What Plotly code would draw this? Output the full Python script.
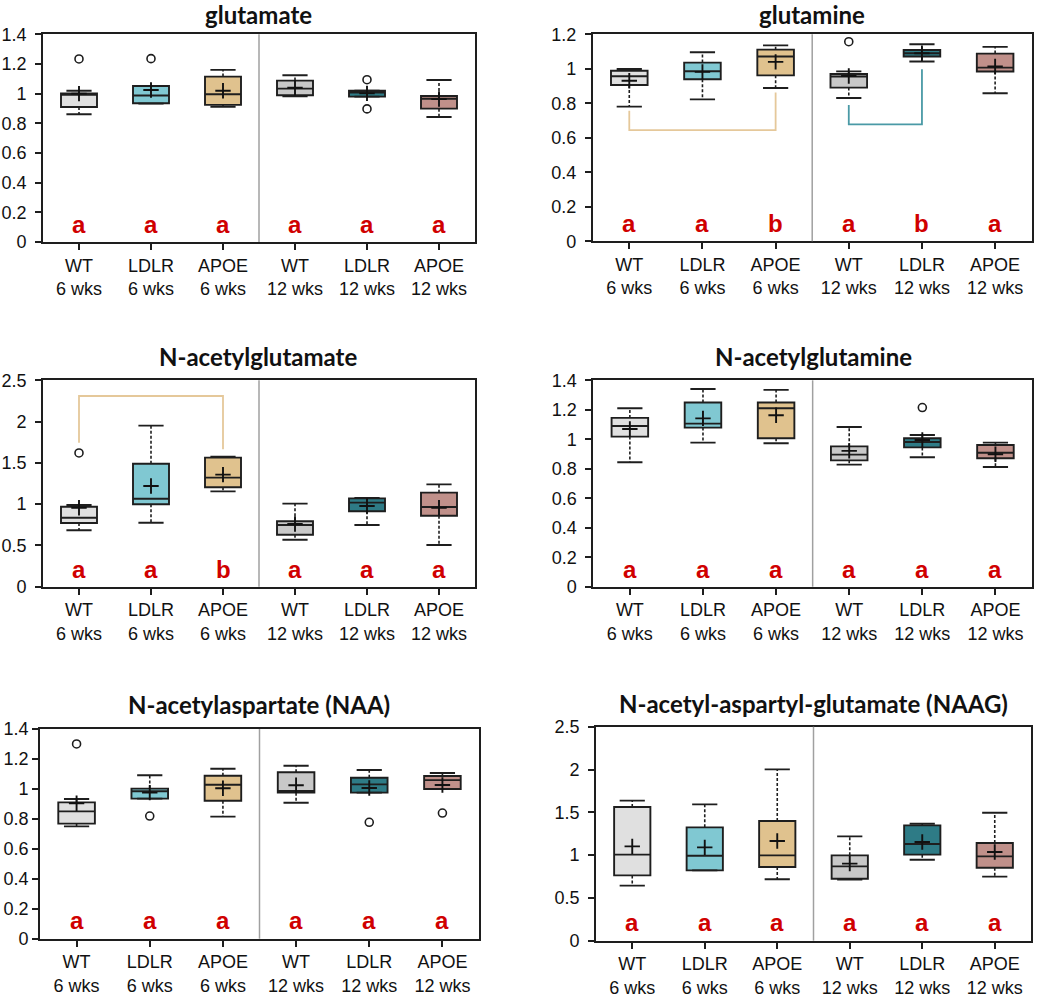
import plotly.graph_objects as go

# ---------------- data ----------------
categories = ["WT<br>6 wks", "LDLR<br>6 wks", "APOE<br>6 wks",
              "WT<br>12 wks", "LDLR<br>12 wks", "APOE<br>12 wks"]
box_colors = ["#E0E0E0", "#80C8D2", "#E0C28E", "#C8C8C8", "#2E7B86", "#C0908A"]

titles = ["glutamate", "glutamine", "N-acetylglutamate", "N-acetylglutamine",
          "N-acetylaspartate (NAA)", "N-acetyl-aspartyl-glutamate (NAAG)"]

# glutamate
glu_lo = [0.861, 0.933, 0.912, 0.982, 0.980, 0.843]
glu_q1 = [0.910, 0.935, 0.924, 0.989, 0.980, 0.899]
glu_med = [0.993, 0.987, 0.996, 1.034, 1.007, 0.966]
glu_q3 = [1.002, 1.052, 1.115, 1.088, 1.020, 0.984]
glu_hi = [1.020, 1.052, 1.160, 1.124, 1.020, 1.092]
glu_mean = [1.000, 1.025, 1.020, 1.040, 1.002, 0.964]
glu_out = [[1.234], [1.236], [], [], [1.094, 0.897], []]
glu_letters = ["a", "a", "a", "a", "a", "a"]

# glutamine
gln_lo = [0.781, 0.823, 0.889, 0.831, 1.042, 0.858]
gln_q1 = [0.906, 0.939, 0.962, 0.891, 1.071, 0.984]
gln_med = [0.957, 0.986, 1.071, 0.955, 1.090, 1.007]
gln_q3 = [0.989, 1.036, 1.111, 0.970, 1.109, 1.088]
gln_hi = [0.999, 1.096, 1.136, 0.985, 1.142, 1.127]
gln_mean = [0.931, 0.982, 1.040, 0.958, 1.090, 1.013]
gln_out = [[], [], [], [1.157], [], []]
gln_letters = ["a", "a", "b", "a", "b", "a"]

# N-acetylglutamate
nag_lo = [0.683, 0.775, 1.155, 0.569, 0.747, 0.505]
nag_q1 = [0.771, 0.998, 1.204, 0.630, 0.913, 0.860]
nag_med = [0.836, 1.066, 1.321, 0.747, 1.018, 0.965]
nag_q3 = [0.969, 1.490, 1.563, 0.792, 1.070, 1.139]
nag_hi = [0.990, 1.951, 1.575, 1.006, 1.075, 1.240]
nag_mean = [0.957, 1.220, 1.357, 0.759, 0.977, 0.957]
nag_out = [[1.620], [], [], [], [], []]
nag_letters = ["a", "a", "b", "a", "a", "a"]

# N-acetylglutamine
nagn_lo = [0.844, 0.977, 0.973, 0.828, 0.878, 0.812]
nagn_q1 = [1.018, 1.079, 1.007, 0.857, 0.945, 0.871]
nagn_med = [1.090, 1.106, 1.210, 0.896, 0.982, 0.909]
nagn_q3 = [1.145, 1.249, 1.249, 0.952, 1.007, 0.961]
nagn_hi = [1.210, 1.341, 1.335, 1.083, 1.029, 0.977]
nagn_mean = [1.070, 1.142, 1.163, 0.921, 0.995, 0.898]
nagn_out = [[], [], [], [], [1.215], []]
nagn_letters = ["a", "a", "a", "a", "a", "a"]

# NAA
naa_lo = [0.750, 0.935, 0.815, 0.908, 0.975, 0.999]
naa_q1 = [0.768, 0.935, 0.921, 0.975, 0.975, 0.999]
naa_med = [0.850, 0.984, 1.028, 0.986, 1.030, 1.059]
naa_q3 = [0.910, 1.002, 1.088, 1.111, 1.075, 1.086]
naa_hi = [0.933, 1.091, 1.135, 1.155, 1.126, 1.106]
naa_mean = [0.904, 0.975, 1.004, 1.024, 1.006, 1.026]
naa_out = [[1.300], [0.819], [], [], [0.777], [0.839]]
naa_letters = ["a", "a", "a", "a", "a", "a"]

# NAAG
naag_lo = [0.643, 0.822, 0.717, 0.713, 0.946, 0.748]
naag_q1 = [0.763, 0.822, 0.861, 0.724, 1.005, 0.853]
naag_med = [1.005, 0.993, 0.997, 0.868, 1.129, 0.985]
naag_q3 = [1.562, 1.324, 1.398, 0.997, 1.347, 1.141]
naag_hi = [1.636, 1.593, 2.002, 1.219, 1.367, 1.495]
naag_mean = [1.102, 1.090, 1.164, 0.900, 1.153, 1.036]
naag_out = [[], [], [], [], [], []]
naag_letters = ["a", "a", "a", "a", "a", "a"]

y_max = [1.4, 1.2, 2.5, 1.4, 1.4, 2.5]
y_dtick = [0.2, 0.2, 0.5, 0.2, 0.2, 0.5]

# significance brackets
bracket_panel = [1, 1, 2]
bracket_from = [0, 3, 0]
bracket_to = [2, 4, 2]
bracket_left = [0.757, 0.790, 1.745]
bracket_level = [0.645, 0.678, 2.31]
bracket_right = [0.862, 0.997, 1.664]
bracket_color = ["#E5C89A", "#4A9AA6", "#E5C89A"]

panel_stats = [
    (glu_lo, glu_q1, glu_med, glu_q3, glu_hi, glu_mean, glu_out, glu_letters),
    (gln_lo, gln_q1, gln_med, gln_q3, gln_hi, gln_mean, gln_out, gln_letters),
    (nag_lo, nag_q1, nag_med, nag_q3, nag_hi, nag_mean, nag_out, nag_letters),
    (nagn_lo, nagn_q1, nagn_med, nagn_q3, nagn_hi, nagn_mean, nagn_out, nagn_letters),
    (naa_lo, naa_q1, naa_med, naa_q3, naa_hi, naa_mean, naa_out, naa_letters),
    (naag_lo, naag_q1, naag_med, naag_q3, naag_hi, naag_mean, naag_out, naag_letters),
]

# ---------------- layout geometry (pixels) ----------------
W, H = 1050, 998
px_boxes = [  # left, right, top, bottom
    (43, 475, 34.3, 242),
    (592.7, 1031.7, 34.3, 241.3),
    (43, 475, 380.3, 586.7),
    (593.3, 1032, 380.3, 586.7),
    (40, 479, 729, 938.7),
    (596, 1031, 726.7, 940.7),
]
label_standoff = [5, 5, 5, 5, 0, 5]
title_pos = [(258, 15), (812, 15), (258, 356), (813, 356), (259, 704), (813, 703)]

LINE = "#1E1E1E"
TICKFONT = dict(family="Liberation Sans, Arial, sans-serif", size=18, color="#111111")

fig = go.Figure()
layout = dict(width=W, height=H, margin=dict(l=0, r=0, t=0, b=0, pad=0, autoexpand=False),
              paper_bgcolor="white", plot_bgcolor="white", showlegend=False)
annotations = []
shapes = []

for p, (lo, q1, med, q3, hi, mean, outs, letters) in enumerate(panel_stats):
    sfx = "" if p == 0 else str(p + 1)
    xr, yr = "x" + sfx, "y" + sfx
    l, r, t, b = px_boxes[p]
    layout["xaxis" + sfx] = dict(
        domain=[l / W, r / W], anchor=yr, type="category", automargin=False,
        categoryorder="array", categoryarray=categories, range=[-0.5, 5.5],
        showline=True, linecolor=LINE, linewidth=1.8, mirror=True,
        ticks="outside", ticklen=6, tickwidth=1.8, tickcolor=LINE,
        showgrid=False, zeroline=False, tickfont=TICKFONT)
    layout["yaxis" + sfx] = dict(
        domain=[1 - b / H, 1 - t / H], anchor=xr, range=[0, y_max[p]], automargin=False,
        dtick=y_dtick[p], tick0=0, ticklabelstandoff=label_standoff[p],
        showline=True, linecolor=LINE, linewidth=1.8, mirror=True,
        ticks="outside", ticklen=6, tickwidth=1.8, tickcolor=LINE,
        showgrid=False, zeroline=False, tickfont=TICKFONT)

    # group divider between 6 wks and 12 wks
    shapes.append(dict(type="line", xref=xr, yref=yr + " domain",
                       x0=len(categories) / 2 - 0.5, x1=len(categories) / 2 - 0.5,
                       y0=0, y1=1, line=dict(color="#A0A0A0", width=1.5)))

    # dashed whiskers
    wx, wy = [], []
    for i, c in enumerate(categories):
        wx += [c, c, None, c, c, None]
        wy += [q3[i], hi[i], None, q1[i], lo[i], None]
    fig.add_trace(go.Scatter(x=wx, y=wy, mode="lines", xaxis=xr, yaxis=yr,
                             line=dict(color=LINE, width=1.6, dash="3px,2px"),
                             hoverinfo="skip"))
    # boxes
    for i, c in enumerate(categories):
        fig.add_trace(go.Box(x=[c], q1=[q1[i]], median=[med[i]], q3=[q3[i]],
                             lowerfence=[q1[i]], upperfence=[q3[i]],
                             width=0.5, whiskerwidth=0, fillcolor=box_colors[i],
                             line=dict(color=LINE, width=1.9),
                             xaxis=xr, yaxis=yr, name=c.replace("<br>", " ")))
    # caps
    fig.add_trace(go.Scatter(x=categories + categories, y=hi + lo, mode="markers",
                             xaxis=xr, yaxis=yr,
                             marker=dict(symbol="line-ew", size=18,
                                         line=dict(color=LINE, width=1.9))))
    # means
    fig.add_trace(go.Scatter(x=categories, y=mean, mode="markers", xaxis=xr, yaxis=yr,
                             marker=dict(symbol="cross-thin", size=11,
                                         line=dict(color="#111111", width=1.9))))
    # outliers
    ox, oy = [], []
    for i, c in enumerate(categories):
        for v in outs[i]:
            ox.append(c)
            oy.append(v)
    if ox:
        fig.add_trace(go.Scatter(x=ox, y=oy, mode="markers", xaxis=xr, yaxis=yr,
                                 marker=dict(symbol="circle-open", size=8, color=LINE,
                                             line=dict(color=LINE, width=1.6))))
    # letters
    for i, c in enumerate(categories):
        annotations.append(dict(text=letters[i], x=c, xref=xr, y=0.085,
                                yref=yr + " domain", showarrow=False,
                                yanchor="middle", xanchor="center",
                                font=dict(family="Liberation Sans, Arial, sans-serif",
                                          size=24, color="#D00000", weight="bold")))
    # title
    tx, ty = title_pos[p]
    annotations.append(dict(text="<b>" + titles[p] + "</b>",
                            x=tx / W, y=1 - ty / H,
                            xref="paper", yref="paper", showarrow=False,
                            xanchor="center", yanchor="middle",
                            font=dict(family="Lato, sans-serif", size=24, color="#111111")))

# significance brackets
for k in range(len(bracket_panel)):
    p = bracket_panel[k]
    sfx = "" if p == 0 else str(p + 1)
    ca, cb = categories[bracket_from[k]], categories[bracket_to[k]]
    fig.add_trace(go.Scatter(x=[ca, ca, cb, cb],
                             y=[bracket_left[k], bracket_level[k], bracket_level[k], bracket_right[k]],
                             mode="lines", xaxis="x" + sfx, yaxis="y" + sfx,
                             line=dict(color=bracket_color[k], width=1.8),
                             hoverinfo="skip"))

layout["annotations"] = annotations
layout["shapes"] = shapes
layout["boxmode"] = "overlay"
fig.update_layout(**layout)
fig.write_html("out.html", config={"displayModeBar": False},
               post_script="document.body.style.margin='0px';document.body.style.overflow='hidden';")
